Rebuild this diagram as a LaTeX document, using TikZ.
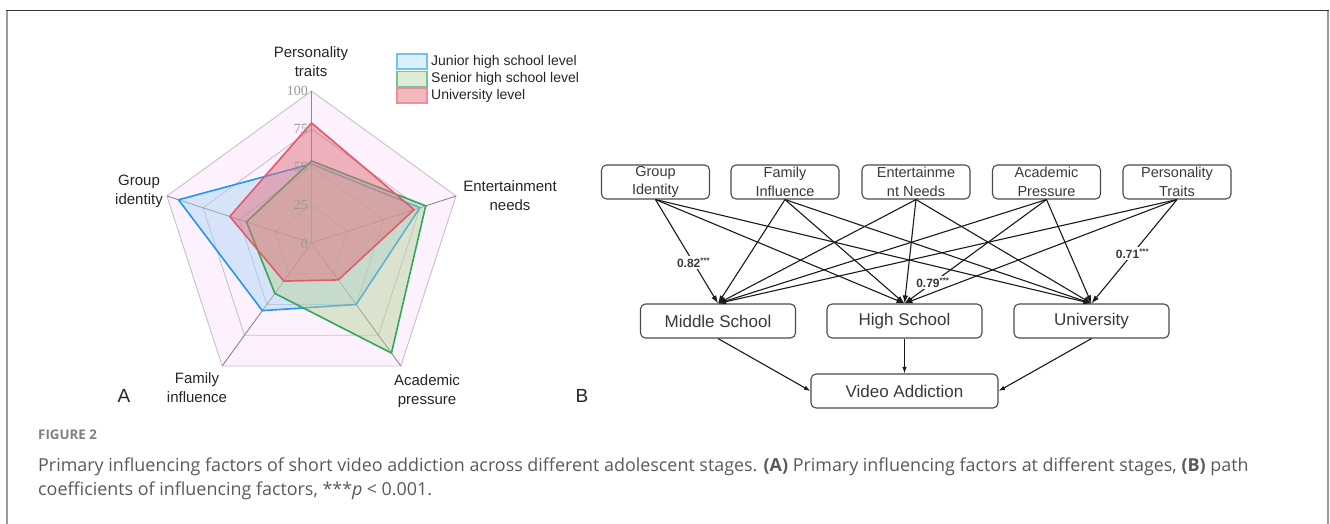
\documentclass[tikz,border=0pt]{standalone}
\usepackage{fontspec}
\setmainfont{Liberation Sans}
\newfontfamily\capfont{Open Sans}
\newfontfamily\numfont{Liberation Serif}
\usetikzlibrary{arrows.meta}
\definecolor{framegray}{HTML}{9A9A9A}
\definecolor{framedark}{HTML}{333333}
\definecolor{radarbg}{HTML}{FCF1FC}
\definecolor{ringgray}{HTML}{C8C2C8}
\definecolor{spokegray}{HTML}{8A8A8A}
\definecolor{jline}{HTML}{2196F3}
\definecolor{jfill}{HTML}{A9D4F5}
\definecolor{sline}{HTML}{31A85A}
\definecolor{sfill}{HTML}{B5D39A}
\definecolor{uline}{HTML}{E05C6C}
\definecolor{ufill}{HTML}{E0707F}
\definecolor{ljfill}{HTML}{DCEFFC}
\definecolor{ljline}{HTML}{6CC5F2}
\definecolor{lsfill}{HTML}{DEEBD6}
\definecolor{lsline}{HTML}{7CC492}
\definecolor{lufill}{HTML}{F3B7BE}
\definecolor{luline}{HTML}{EE8E98}
\definecolor{ticktext}{HTML}{9A9A9A}
\definecolor{labtext}{HTML}{262626}
\definecolor{boxgray}{HTML}{4A4A4A}
\definecolor{btext}{HTML}{3A3A3A}
\definecolor{edgeblack}{HTML}{1A1A1A}
\definecolor{capgrayA}{HTML}{808080}
\definecolor{capgrayB}{HTML}{5A5A5A}
\tikzset{
  axislab/.style={align=center, font=\fontsize{15}{19}\selectfont, text=labtext, inner sep=0pt},
  ticklab/.style={anchor=east, font=\numfont\fontsize{14}{15}\selectfont, text=ticktext, inner sep=0pt},
  legbox/.style={minimum width=30pt, minimum height=15pt, inner sep=0pt, line width=1.2pt},
  legtext/.style={anchor=west, font=\fontsize{14}{16}\selectfont, text=labtext, inner sep=0pt},
  topbox/.style={draw=boxgray, rounded corners=5pt, minimum width=108pt, minimum height=34pt,
    align=center, font=\fontsize{14.5}{18.5}\selectfont, text=btext, line width=1.1pt, inner sep=0pt},
  midbox/.style={draw=boxgray, rounded corners=5pt, minimum width=155pt, minimum height=34pt,
    font=\fontsize{17}{20}\selectfont, text=btext, line width=1.1pt, inner sep=0pt},
  pathedge/.style={draw=edgeblack, line width=1.1pt, -{Latex[length=8pt,width=5.5pt]}},
  botedge/.style={draw=edgeblack, line width=1.1pt, -{Latex[length=6.5pt,width=4.5pt]}},
  coef/.style={fill=white, inner sep=1.5pt, font=\bfseries\fontsize{12}{14}\selectfont, text=btext},
  panel/.style={font=\fontsize{19}{22}\selectfont, text=labtext, inner sep=0pt},
  captext/.style={anchor=west, inner sep=0pt, font=\capfont\fontsize{17.9}{21}\selectfont, text=capgrayB}
}
\begin{document}
\begin{tikzpicture}[x=1pt,y=-1pt]
\useasboundingbox (0,0) rectangle (1330,524);
\fill[white] (0,0) rectangle (1330,524);
% frame
\draw[framegray, line width=2pt] (7,10.5) -- (7,524);
\draw[framegray, line width=2pt] (1328,10.5) -- (1328,524);
\draw[framedark, line width=1.2pt] (6,10.5) -- (1329,10.5);

% ---------------- Panel A: radar ----------------
\begin{scope}[shift={(311.5pt,-243pt)}, x=1pt, y=1pt]
\def\R{152}
\fill[radarbg] (90:\R) -- (18:\R) -- (-54:\R) -- (-126:\R) -- (162:\R) -- cycle;
\foreach \f in {0.25,0.5,0.75,1}
  \draw[ringgray, line width=0.9pt] (90:{\f*\R}) -- (18:{\f*\R}) -- (-54:{\f*\R}) -- (-126:{\f*\R}) -- (162:{\f*\R}) -- cycle;
\foreach \a in {90,18,-54,-126,162}
  \draw[spokegray, line width=0.9pt] (0,0) -- (\a:\R);
% junior
\draw[jline, line width=1.6pt, fill=jfill, fill opacity=0.45, draw opacity=1]
  (90:{0.52*\R}) -- (18:{0.75*\R}) -- (-54:{0.50*\R}) -- (-126:{0.55*\R}) -- (162:{0.92*\R}) -- cycle;
% senior
\draw[sline, line width=1.6pt, fill=sfill, fill opacity=0.45, draw opacity=1]
  (90:{0.54*\R}) -- (18:{0.79*\R}) -- (-54:{0.895*\R}) -- (-126:{0.41*\R}) -- (162:{0.45*\R}) -- cycle;
% university
\draw[uline, line width=1.6pt, fill=ufill, fill opacity=0.5, draw opacity=1]
  (90:{0.79*\R}) -- (18:{0.71*\R}) -- (-54:{0.30*\R}) -- (-126:{0.31*\R}) -- (162:{0.565*\R}) -- cycle;
\end{scope}
% tick labels
\node[ticklab] (t100) at (308,91) {100};
\node[ticklab] (t75) at (308,129) {75};
\node[ticklab] (t50) at (308,167) {50};
\node[ticklab] (t25) at (308,205) {25};
\node[ticklab] (t0) at (308,244) {0};
% axis labels
\node[axislab] (lp) at (311,62) {Personality\\traits};
\node[axislab] (le) at (510,196) {Entertainment\\needs};
\node[axislab] (lg) at (139,191) {Group\\identity};
\node[axislab] (lf) at (197,388) {Family\\influence};
\node[axislab] (la) at (427,391) {Academic\\pressure};
% legend
\node[legbox, draw=ljline, fill=ljfill] (k1) at (412,61.5) {};
\node[legbox, draw=lsline, fill=lsfill] (k2) at (412,79) {};
\node[legbox, draw=luline, fill=lufill] (k3) at (412,95.5) {};
\node[legtext] (k1t) at (431,61.5) {Junior high school level};
\node[legtext] (k2t) at (431,79) {Senior high school level};
\node[legtext] (k3t) at (431,95.5) {University level};
\node[panel] (pa) at (124,396) {A};

% ---------------- Panel B: paths ----------------
\node[topbox] (gi) at (655.5,182) {Group\\Identity};
\node[topbox] (fi) at (785,182) {Family\\Influence};
\node[topbox] (en) at (916,182) {Entertainme\\nt Needs};
\node[topbox] (ap) at (1046.5,182) {Academic\\Pressure};
\node[topbox] (pt) at (1177,182) {Personality\\Traits};
\node[midbox] (ms) at (718,321) {Middle School};
\node[midbox] (hs) at (904.5,321) {High School};
\node[midbox] (un) at (1091.5,321) {University};
\node[midbox, minimum width=187pt] (va) at (904.5,391) {Video Addiction};

\draw[pathedge] (gi.south) -- node[coef, pos=0.61] {0.82\textsuperscript{***}} (ms.north);
\draw[pathedge] (ap.south) -- node[coef, pos=0.80] {0.79\textsuperscript{***}} (hs.north);
\draw[pathedge] (pt.south) -- node[coef, pos=0.52] {0.71\textsuperscript{***}} (un.north);

\draw[pathedge] (gi.south) -- (hs.north);
\draw[pathedge] (gi.south) -- (un.north);
\draw[pathedge] (fi.south) -- (ms.north);
\draw[pathedge] (fi.south) -- (hs.north);
\draw[pathedge] (fi.south) -- (un.north);
\draw[pathedge] (en.south) -- (ms.north);
\draw[pathedge] (en.south) -- (hs.north);
\draw[pathedge] (en.south) -- (un.north);
\draw[pathedge] (ap.south) -- (ms.north);
\draw[pathedge] (ap.south) -- (un.north);
\draw[pathedge] (pt.south) -- (ms.north);
\draw[pathedge] (pt.south) -- (hs.north);

\draw[botedge] (ms.south) -- (va.west);
\draw[botedge] (hs.south) -- (va.north);
\draw[botedge] (un.south) -- (va.east);
\node[panel] (pb) at (582,396) {B};

% ---------------- Caption ----------------
\node[anchor=west, inner sep=0pt, font=\capfont\bfseries\fontsize{13.3}{15}\selectfont, text=capgrayA] (fig) at (38,435) {FIGURE 2};
\node[captext] (cap1) at (38,467)
  {Primary influencing factors of short video addiction across different adolescent stages. \textbf{(A)} Primary influencing factors at different stages, \textbf{(B)} path};
\node[captext] (cap2) at (38,491)
  {coefficients of influencing factors, ***\textit{p}\hspace{0.25em}<\hspace{0.25em}0.001.};
\end{tikzpicture}
\end{document}
